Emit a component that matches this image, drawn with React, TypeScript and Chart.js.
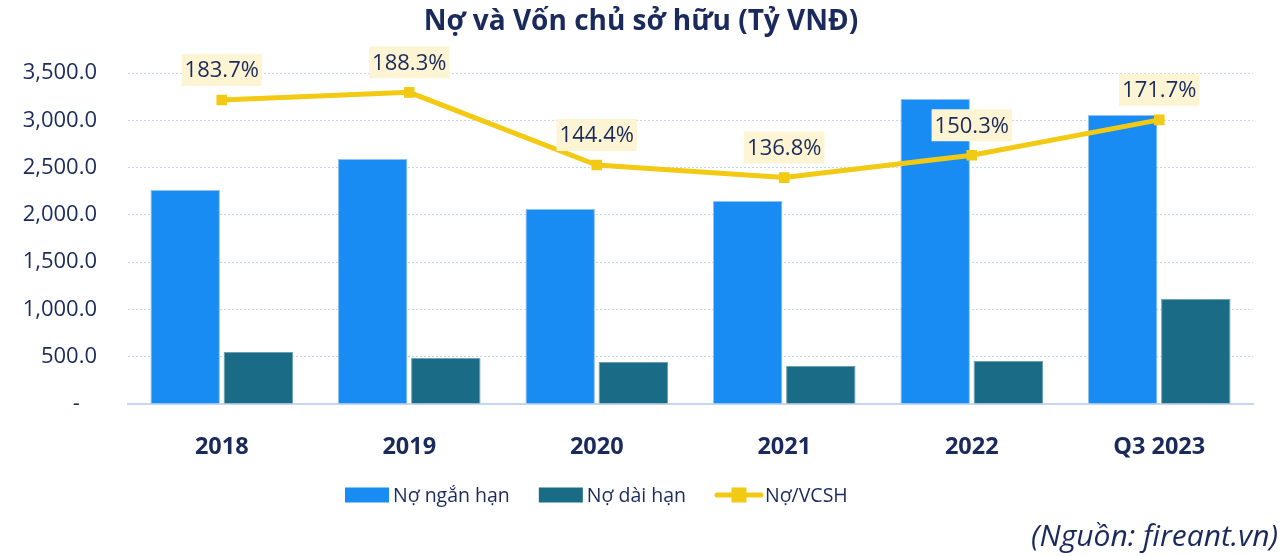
import React, { useEffect, useRef } from "react";
import { Chart, registerables } from "chart.js";

Chart.register(...registerables);

const titleText = "Nợ và Vốn chủ sở hữu (Tỷ VNĐ)";
const sourceText = "(Nguồn: fireant.vn)";
const categories = ["2018", "2019", "2020", "2021", "2022", "Q3 2023"];
const seriesNames = ["Nợ ngắn hạn", "Nợ dài hạn", "Nợ/VCSH"];
const shortTermDebt = [2262, 2590, 2061, 2146, 3224, 3055];
const longTermDebt = [550, 486, 444, 402, 455, 1113];
const debtToEquity = [183.7, 188.3, 144.4, 136.8, 150.3, 171.7];
const yTickValues = [0, 500, 1000, 1500, 2000, 2500, 3000, 3500];

const FONT = "'Open Sans', 'Noto Sans', sans-serif";
const NAVY = "#1A2A5C";
const BLUE = "#188CF2";
const TEAL = "#1A6B86";
const YELLOW = "#F2CA14";
const LABEL_BG = "#FCF4D2";

const overlayPlugin = {
  id: "overlay",
  afterDatasetsDraw(chart: any) {
    const ctx = chart.ctx as CanvasRenderingContext2D;
    const meta = chart.getDatasetMeta(0);
    ctx.save();
    ctx.font = `22px ${FONT}`;
    ctx.textAlign = "center";
    ctx.textBaseline = "middle";
    meta.data.forEach((pt: any, i: number) => {
      const txt = debtToEquity[i].toFixed(1) + "%";
      const w = ctx.measureText(txt).width + 6;
      const h = 32;
      const cx = pt.x;
      const cy = pt.y - 30;
      ctx.fillStyle = LABEL_BG;
      ctx.fillRect(cx - w / 2, cy - h / 2, w, h);
      ctx.fillStyle = NAVY;
      ctx.fillText(txt, cx, cy + 1);
    });
    ctx.restore();
  },
  afterDraw(chart: any) {
    const ctx = chart.ctx as CanvasRenderingContext2D;
    ctx.save();
    // Title
    ctx.fillStyle = NAVY;
    ctx.font = `bold 28px ${FONT}`;
    ctx.textAlign = "center";
    ctx.textBaseline = "middle";
    ctx.fillText(titleText, 641, 22);

    // Legend
    ctx.font = `19.5px ${FONT}`;
    ctx.textAlign = "left";
    ctx.textBaseline = "middle";
    const ly = 495;
    let x = 345;
    const colors = [BLUE, TEAL];
    for (let i = 0; i < 2; i++) {
      ctx.fillStyle = colors[i];
      ctx.fillRect(x, ly - 7.5, 44, 15);
      x += 48;
      ctx.fillStyle = NAVY;
      ctx.fillText(seriesNames[i], x, ly + 1);
      x += ctx.measureText(seriesNames[i]).width + 29;
    }
    ctx.strokeStyle = YELLOW;
    ctx.lineWidth = 5;
    ctx.lineCap = "round";
    ctx.beginPath();
    ctx.moveTo(x + 2, ly);
    ctx.lineTo(x + 46, ly);
    ctx.stroke();
    ctx.fillStyle = YELLOW;
    ctx.fillRect(x + 24 - 7.5, ly - 7.5, 15, 15);
    x += 50;
    ctx.fillStyle = NAVY;
    ctx.fillText(seriesNames[2], x, ly + 1);

    // Source
    ctx.font = `italic 30px ${FONT}`;
    ctx.textAlign = "right";
    ctx.fillText(sourceText, 1278, 537);
    ctx.restore();
  },
};

export default function App() {
  const canvasRef = useRef<HTMLCanvasElement | null>(null);

  useEffect(() => {
    if (!canvasRef.current) return;
    const chart = new Chart(canvasRef.current, {
      type: "bar",
      data: {
        labels: categories,
        datasets: [
          {
            type: "line",
            label: seriesNames[2],
            data: debtToEquity,
            yAxisID: "y1",
            borderColor: YELLOW,
            backgroundColor: YELLOW,
            borderWidth: 5,
            tension: 0,
            pointStyle: "rect",
            pointRadius: 7.5,
            pointBorderWidth: 0,
            pointBackgroundColor: YELLOW,
            order: 0,
          } as any,
          {
            type: "bar",
            label: seriesNames[0],
            data: shortTermDebt,
            yAxisID: "y",
            backgroundColor: BLUE,
            borderColor: "#8EC3F2",
            borderWidth: 1,
            categoryPercentage: 0.78,
            barPercentage: 0.95,
            order: 1,
          },
          {
            type: "bar",
            label: seriesNames[1],
            data: longTermDebt,
            yAxisID: "y",
            backgroundColor: TEAL,
            borderColor: "#6E9FB2",
            borderWidth: 1,
            categoryPercentage: 0.78,
            barPercentage: 0.95,
            order: 1,
          },
        ],
      },
      options: {
        responsive: false,
        animation: false,
        devicePixelRatio: 1,
        layout: { padding: { left: 0, right: 30, top: 73, bottom: 92 } },
        plugins: {
          legend: { display: false },
          title: { display: false },
          tooltip: { enabled: false },
        },
        scales: {
          x: {
            grid: { display: false },
            border: { display: true, color: "#C6D6F2", width: 2 },
            ticks: {
              color: NAVY,
              font: { family: FONT, size: 23.5, weight: "bold" },
              padding: 21,
              maxRotation: 0,
            },
            afterFit(scale: any) {
              scale.height = 60;
            },
          },
          y: {
            min: 0,
            max: 3500,
            afterBuildTicks(scale: any) {
              scale.ticks = yTickValues.map((v) => ({ value: v }));
            },
            grid: { color: "#C4D4F4", lineWidth: 1, drawTicks: false },
            border: { display: false, dash: [2, 2] },
            ticks: {
              color: NAVY,
              font: { family: FONT, size: 22 },
              padding: 31,
              callback: (v: any) =>
                Number(v) === 0
                  ? "-   "
                  : Number(v).toLocaleString("en-US", {
                      minimumFractionDigits: 1,
                      maximumFractionDigits: 1,
                    }),
            },
            afterFit(scale: any) {
              scale.width = 128;
            },
          },
          y1: {
            display: false,
            min: 0,
            max: 200,
            position: "right",
          },
        },
      } as any,
      plugins: [overlayPlugin],
    });
    return () => chart.destroy();
  }, []);

  return (
    <div style={{ position: "fixed", left: 0, top: 0, width: 1283, height: 556, background: "#fff" }}>
      <canvas ref={canvasRef} width={1283} height={556} style={{ display: "block" }} />
    </div>
  );
}
